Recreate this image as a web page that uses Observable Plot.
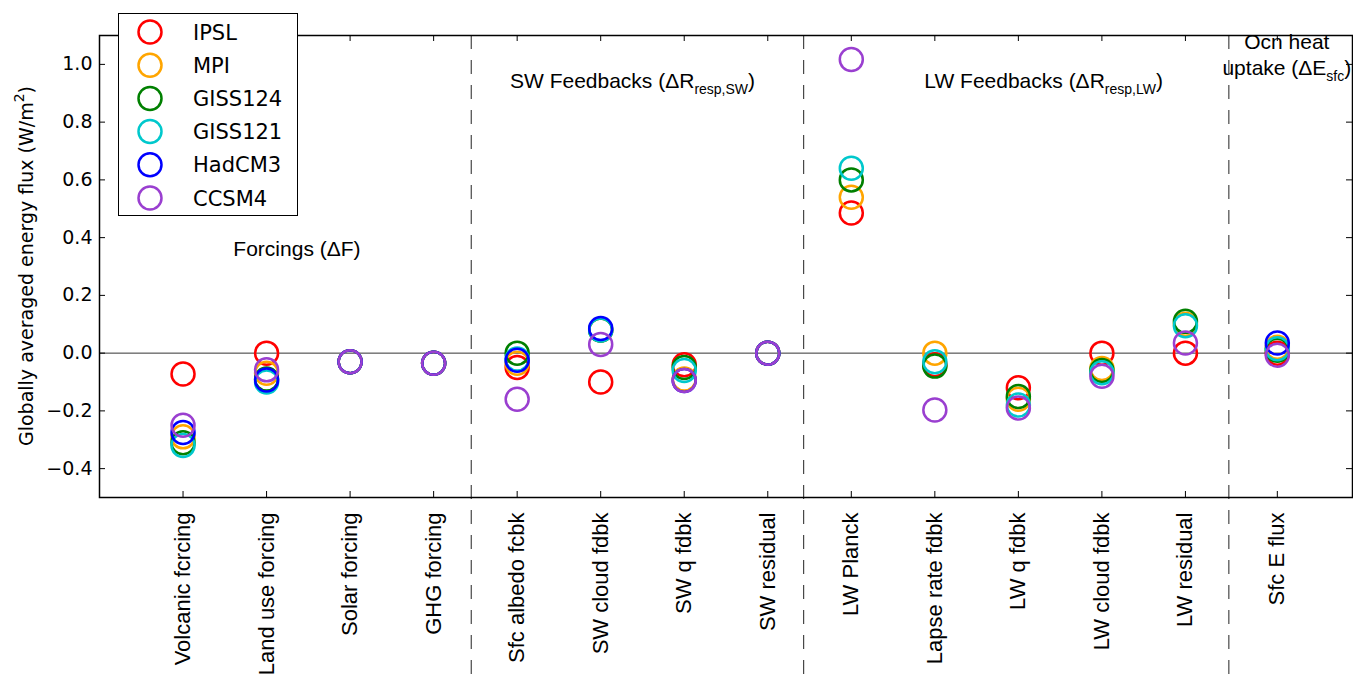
<!DOCTYPE html>
<html>
<head>
<meta charset="utf-8">
<script src="https://cdn.jsdelivr.net/npm/d3@7"></script>
<script src="https://cdn.jsdelivr.net/npm/@observablehq/plot@0.6"></script>
<style>
  html, body { margin: 0; padding: 0; background: #fff; }
  svg { display: block; }
</style>
</head>
<body>
<div id="chart"></div>
<script>
const categories = ["Volcanic fcrcing","Land use forcing","Solar forcing","GHG forcing",
  "Sfc albedo fcbk","SW cloud fdbk","SW q fdbk","SW residual",
  "LW Planck","Lapse rate fdbk","LW q fdbk","LW cloud fdbk","LW residual","Sfc E flux"];
const positions = [1,2,3,4,5,6,7,8,9,10,11,12,13,14.1];
const dividers = [4.45, 8.43, 13.52];
const models = ["IPSL","MPI","GISS124","GISS121","HadCM3","CCSM4"];
const colors = ["#ff0000","#ffa500","#008000","#00c8cc","#0000ff","#9a3fd0"];
const yTicks = [-0.4,-0.2,0.0,0.2,0.4,0.6,0.8,1.0];

const IPSL    = [-0.072, 0.0,   -0.03, -0.035, -0.05,  -0.10,  -0.04,  0.0, 0.485, -0.04,  -0.12, 0.0,    0.0,   0.0];
const MPI     = [-0.29, -0.07,  -0.03, -0.035, -0.035,  0.08,  -0.09,  0.0, 0.54,   0.0,   -0.16, -0.053, 0.10,  0.02];
const GISS124 = [-0.31, -0.09,  -0.03, -0.035,  0.0,    0.08,  -0.05,  0.0, 0.60,  -0.045, -0.15, -0.06,  0.11,  0.01];
const GISS121 = [-0.32, -0.10,  -0.03, -0.035, -0.02,   0.08,  -0.06,  0.0, 0.64,  -0.03,  -0.18, -0.068, 0.095, 0.015];
const HadCM3  = [-0.275,-0.093, -0.03, -0.035, -0.025,  0.085, -0.095, 0.0, null,  null,   null,  null,   null,  0.035];
const CCSM4   = [-0.25, -0.058, -0.03, -0.035, -0.16,   0.03,  -0.095, 0.0, 1.017, -0.197, -0.19, -0.08,  0.035, -0.007];
const series = [IPSL, MPI, GISS124, GISS121, HadCM3, CCSM4];

const data = [];
models.forEach((m, mi) => {
  series[mi].forEach((v, ci) => {
    if (v !== null) data.push({model: m, x: positions[ci], value: v});
  });
});

const tickLen = 6;
const X0 = 0, X1 = 15, Y0 = -0.5, Y1 = 1.1;
const dx = (X1 - X0) / (1352 - 99) * tickLen;
const dy = (Y1 - Y0) / (497 - 35) * tickLen;

const plot = Plot.plot({
  width: 1353,
  height: 683,
  marginLeft: 99,
  marginRight: 1,
  marginTop: 35,
  marginBottom: 186,
  style: {background: "white", overflow: "visible"},
  x: {domain: [X0, X1]},
  y: {domain: [Y0, Y1]},
  color: {domain: models, range: colors},
  marks: [
    Plot.ruleY([0], {stroke: "#333", strokeWidth: 1}),
    Plot.ruleX(dividers, {x: d => d, y1: Y1, y2: -1.2, stroke: "#222", strokeWidth: 1, strokeDasharray: "14,11", clip: false}),
    Plot.dot(data, {x: "x", y: "value", stroke: "model", fill: "none", r: 11.5, strokeWidth: 2.5}),
    Plot.ruleY(yTicks, {y: d => d, x1: X0, x2: X0 + dx, stroke: "black", strokeWidth: 1}),
    Plot.ruleY(yTicks, {y: d => d, x1: X1 - dx, x2: X1, stroke: "black", strokeWidth: 1}),
    Plot.ruleX(positions, {x: d => d, y1: Y0, y2: Y0 + dy, stroke: "black", strokeWidth: 1}),
    Plot.ruleX(positions, {x: d => d, y1: Y1 - dy, y2: Y1, stroke: "black", strokeWidth: 1}),
    Plot.frame({stroke: "black", strokeWidth: 1.5}),
    Plot.axisY({ticks: yTicks, tickSize: 0, tickPadding: 7, label: null,
      tickFormat: d3.format(".1f"), fontSize: 19, fontFamily: "DejaVu Sans", fill: "black"}),
    Plot.axisX({ticks: positions, tickSize: 0, tickPadding: 15, label: null, tickRotate: -90,
      tickFormat: d => categories[positions.indexOf(d)], fontSize: 22, fontFamily: "Liberation Sans", fill: "black"})
  ]
});

document.getElementById("chart").appendChild(plot);

const svg = d3.select(plot);
const sx = plot.scale("x"), sy = plot.scale("y");

// Y axis title
const yt = svg.append("text")
  .attr("transform", `translate(33,${(sy.apply(Y0) + sy.apply(Y1)) / 2}) rotate(-90)`)
  .attr("text-anchor", "middle")
  .attr("font-family", "DejaVu Sans")
  .attr("font-size", 19)
  .attr("fill", "black");
yt.append("tspan").text("Globally averaged energy flux (W/m");
yt.append("tspan").attr("font-size", 14).attr("dy", -9).text("2");
yt.append("tspan").attr("dy", 9).text(")");

// Section titles
function title(xv, yv, anchor, main, sub, tail) {
  const t = svg.append("text")
    .attr("x", sx.apply(xv)).attr("y", sy.apply(yv))
    .attr("text-anchor", anchor)
    .attr("font-family", "Liberation Sans")
    .attr("font-size", 21)
    .attr("fill", "black");
  t.append("tspan").text(main);
  if (sub) {
    t.append("tspan").attr("font-size", 14).attr("dy", 6).text(sub);
    t.append("tspan").attr("dy", -6).text(tail);
  }
  return t;
}
const secTitles = [
  {x: 2.37, y: 0.335, anchor: "middle", main: "Forcings (\u0394F)"},
  {x: 4.92, y: 0.915, anchor: "start", main: "SW Feedbacks (\u0394R", sub: "resp,SW", tail: ")"},
  {x: 9.88, y: 0.915, anchor: "start", main: "LW Feedbacks (\u0394R", sub: "resp,LW", tail: ")"},
  {x: 14.22, y: 1.052, anchor: "middle", main: "Ocn heat"},
  {x: 14.22, y: 0.962, anchor: "middle", main: "uptake (\u0394E", sub: "sfc", tail: ")"}
];
secTitles.forEach(s => title(s.x, s.y, s.anchor, s.main, s.sub, s.tail));

// Legend
const lg = svg.append("g");
lg.append("rect").attr("x", 118.5).attr("y", 13.5).attr("width", 179).attr("height", 202)
  .attr("fill", "white").attr("stroke", "black").attr("stroke-width", 1);
models.forEach((m, i) => {
  const cy = 32 + i * 33.2;
  lg.append("circle").attr("cx", 150).attr("cy", cy).attr("r", 11.5)
    .attr("fill", "none").attr("stroke", colors[i]).attr("stroke-width", 2.5);
  lg.append("text").attr("x", 193).attr("y", cy).attr("dy", "0.36em")
    .attr("text-anchor", "start")
    .attr("font-family", "DejaVu Sans").attr("font-size", 21).attr("fill", "black").text(m);
});
</script>
</body>
</html>
